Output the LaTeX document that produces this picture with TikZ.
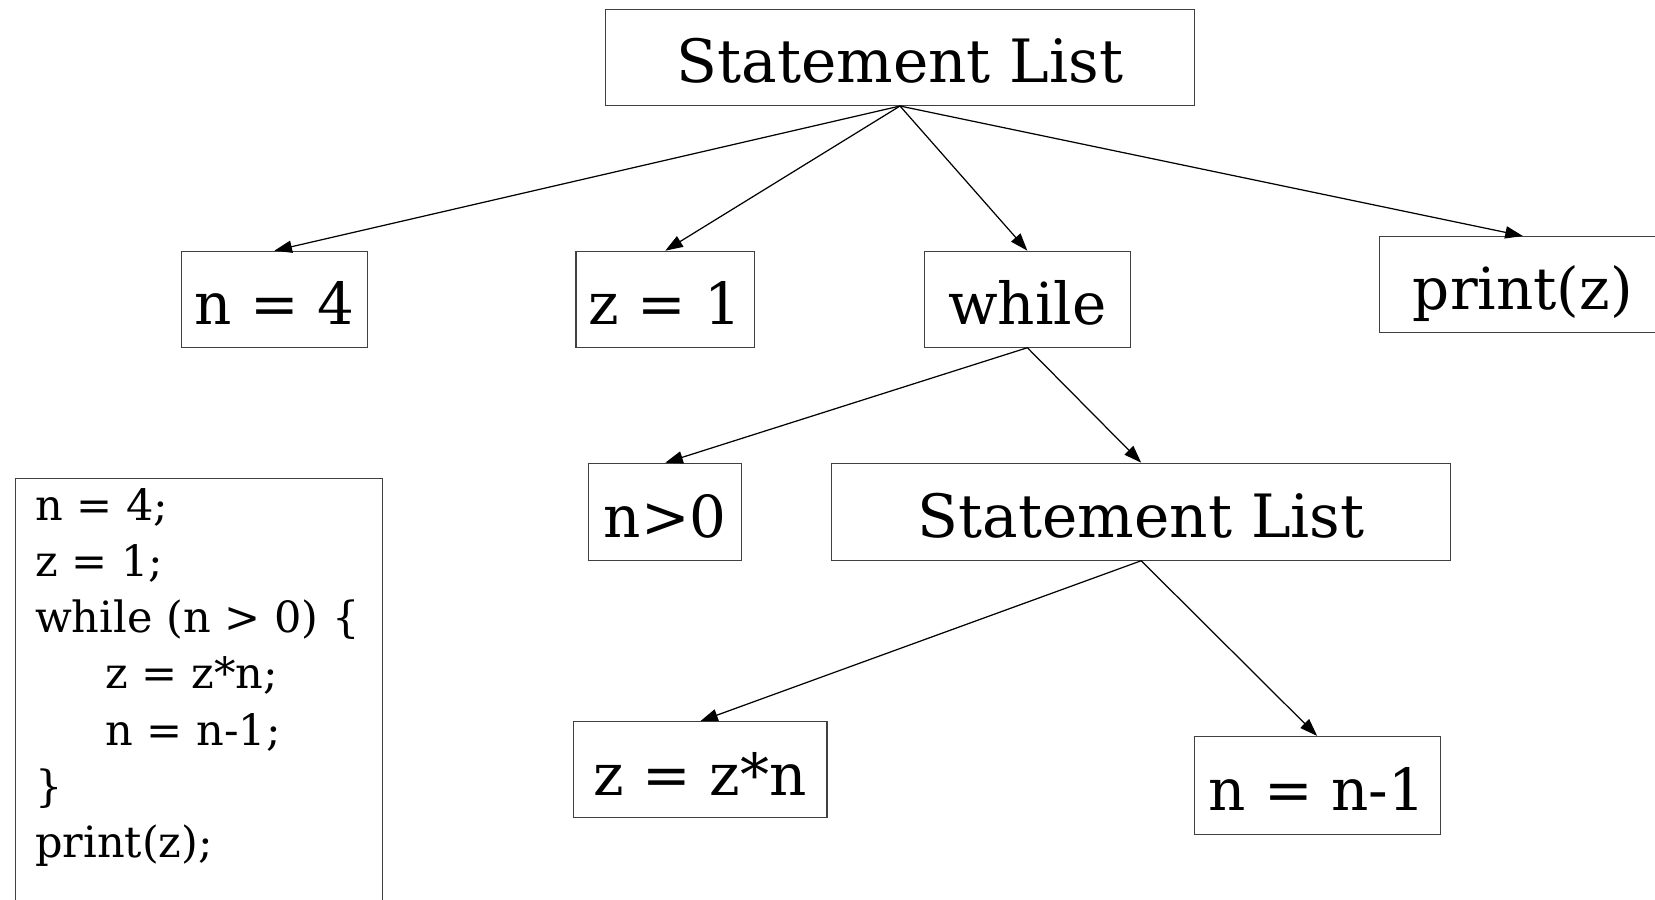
\documentclass[tikz,border=0pt]{standalone}
\usepackage{fontspec}
\setmainfont{DejaVu Serif}
\usetikzlibrary{arrows.meta, positioning}

\begin{document}
\begin{tikzpicture}[
    x=0.02cm, y=-0.02cm,
    stmt/.style={draw=black!75, line width=0.6pt, minimum height=1.92cm, inner sep=0pt,
        font=\fontsize{33}{40}\selectfont, text height=29pt, text depth=0pt},
    arrow/.style={-{Triangle[length=10pt, width=7pt]}, line width=0.7pt},
    listing/.style={font=\fontsize{24.5}{32}\selectfont, align=left, inner sep=0pt}
]
    \clip (0,0) rectangle (1655,899);

    % Root list
    \node[stmt, minimum width=11.8cm, font=\fontsize{34}{40}\selectfont] (top) at (900,57.5) {Statement List};

    % First level statements
    \node[stmt, minimum width=3.716cm] (ninit) at (274.4,299.2) {n = 4};
    \node[stmt, minimum width=3.572cm, right=4.154cm of ninit] (zinit) {z = 1};
    \node[stmt, minimum width=4.116cm, right=3.378cm of zinit] (loop) {while};
    \node[stmt, minimum width=5.74cm, right=4.962cm of loop, yshift=0.294cm] (print) {print(z)};

    % Loop condition and body
    \node[stmt, minimum width=3.06cm, minimum height=1.94cm, below=2.3cm of zinit] (cond) {n>0};
    \node[stmt, minimum width=12.39cm, minimum height=1.94cm, right=1.774cm of cond,
        font=\fontsize{34}{40}\selectfont] (body) {Statement List};

    % Body statements
    \node[stmt, minimum width=5.07cm, below=3.21cm of cond, xshift=0.7cm] (mult) {z = z*n};
    \node[stmt, minimum width=4.92cm, minimum height=1.96cm, right=7.324cm of mult, yshift=-0.314cm] (decr) {n = n-1};

    % Arrows
    \draw[arrow] (top.south) -- (ninit.north);
    \draw[arrow] (top.south) -- (zinit.north);
    \draw[arrow] (top.south) -- (loop.north);
    \draw[arrow] (top.south) -- (print.north);
    \draw[arrow] (loop.south) -- (cond.north);
    \draw[arrow] (loop.south) -- (body.north);
    \draw[arrow] (body.south) -- (mult.north);
    \draw[arrow] (body.south) -- (decr.north);

    % Source code
    \node[draw=black!75, line width=0.6pt, anchor=north west, minimum width=7.344cm, minimum height=9cm] (frame) at (14.8,478) {};
    \node[listing, anchor=north west] (code) at ([shift={(20,10)}]frame.north west) {n = 4;\\
        z = 1;\\
        while (n > 0) \{\\
        \hspace*{40pt}z = z*n;\\
        \hspace*{40pt}n = n-1;\\
        \}\\
        print(z);};

\end{tikzpicture}
\end{document}
